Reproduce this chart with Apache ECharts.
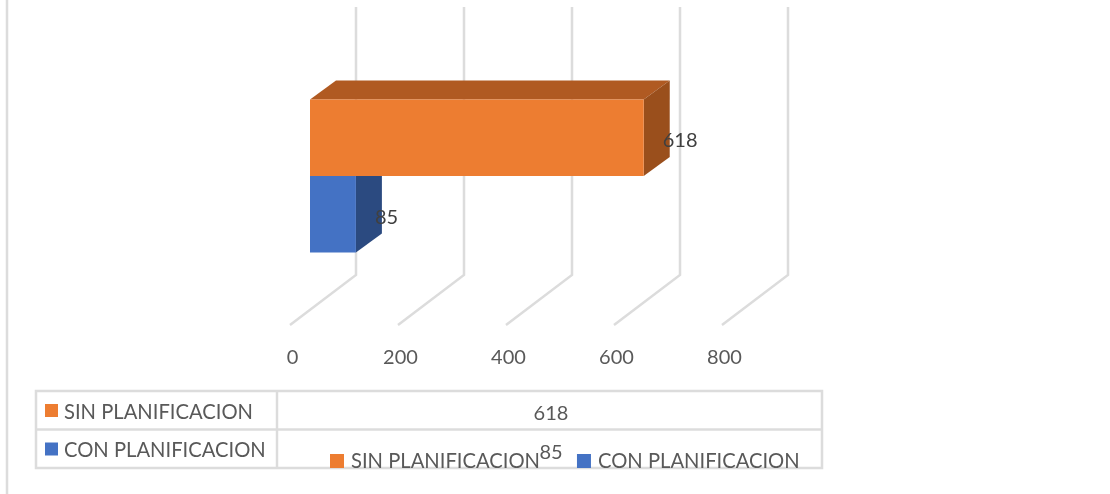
<!DOCTYPE html>
<html>
<head>
<meta charset="utf-8">
<style>html,body{margin:0;padding:0;background:#fff}#chart{width:1110px;height:494px}</style>
<script src="https://cdn.jsdelivr.net/npm/echarts@6/dist/echarts.min.js"></script>
</head>
<body>
<div id="chart"></div>
<script>
// Planning comparison, drawn as a 3D-style clustered bar with a data table below.
const category = ['Total'];
const seriesNames = ['CON PLANIFICACION', 'SIN PLANIFICACION'];
const conValues = [85];
const sinValues = [618];
const tableOrder = ['SIN PLANIFICACION', 'CON PLANIFICACION'];
const tableValues = [618, 85];
const tickValues = [0, 200, 400, 600, 800];
const colors = {
  'CON PLANIFICACION': { front: '#4472c4', side: '#2b4a80', top: '#345a9e' },
  'SIN PLANIFICACION': { front: '#ed7d31', side: '#9a4f1c', top: '#b05a22' }
};

const FONT = 'Lato';
const WALL_DX = 66, WALL_DY = -50;        // floor depth of the 3D box
const BAR_DX = 20, BAR_DY = -15;          // where bars sit inside that depth
const BAR_DEPTH_DX = 26, BAR_DEPTH_DY = -19;
const BAR_SHARE = 0.2857;                 // one bar as a share of the category band

function poly(points, fill) {
  return { type: 'polygon', shape: { points }, style: { fill } };
}

// Floor diagonal and back-wall line for one axis tick.
function renderWall(params, api) {
  const base = api.coord([api.value(0), 0]);
  const h = api.size([0, 1])[1];
  const bottom = base[1] + h / 2;
  const x = base[0];
  return {
    type: 'polyline',
    shape: { points: [[x, bottom], [x + WALL_DX, bottom + WALL_DY], [x + WALL_DX, bottom + WALL_DY - h]] },
    style: { stroke: '#dcdcdc', lineWidth: 2.5, fill: null },
    z2: 1
  };
}

// Extruded bar: top and side faces behind the front face, value label beside the end.
function makeBarRenderer(name, lowerHalf) {
  return function (params, api) {
    const start = api.coord([0, 0]);
    const end = api.coord([api.value(0), 0]);
    const barH = api.size([0, 1])[1] * BAR_SHARE;
    const x0 = start[0] + BAR_DX;
    const x1 = end[0] + BAR_DX;
    const cy = start[1] + BAR_DY;
    const y0 = lowerHalf ? cy : cy - barH;
    const y1 = y0 + barH;
    const c = colors[name];
    const d = BAR_DEPTH_DX, e = BAR_DEPTH_DY;
    return {
      type: 'group',
      children: [
        poly([[x0, y0], [x0 + d, y0 + e], [x1 + d, y0 + e], [x1, y0]], c.top),
        poly([[x1, y0], [x1 + d, y0 + e], [x1 + d, y1 + e], [x1, y1]], c.side),
        poly([[x0, y0], [x1, y0], [x1, y1], [x0, y1]], c.front),
        {
          type: 'text',
          z2: 10,
          style: {
            text: String(api.value(0)),
            x: x1 + 19,
            y: (y0 + y1) / 2 + 3,
            align: 'left',
            verticalAlign: 'middle',
            fill: '#404040',
            font: '20px ' + FONT
          }
        }
      ]
    };
  };
}

// Left edge of the chart frame, plus the data table with its row labels and values.
function tableGraphics() {
  const left = 36, right = 822, top = 391, rowH = 38.5, split = 277;
  const line = { stroke: '#dcdcdc', lineWidth: 2.5 };
  const items = [
    { type: 'line', shape: { x1: 7, y1: 0, x2: 7, y2: 494 }, style: line },
    { type: 'rect', shape: { x: left, y: top, width: right - left, height: rowH * 2 }, style: { stroke: '#dcdcdc', lineWidth: 2.5, fill: null } },
    { type: 'line', shape: { x1: left, y1: top + rowH, x2: right, y2: top + rowH }, style: line },
    { type: 'line', shape: { x1: split, y1: top, x2: split, y2: top + rowH * 2 }, style: line }
  ];
  tableOrder.forEach(function (name, i) {
    const y = top + rowH * i;
    items.push({ type: 'rect', shape: { x: 45, y: y + 13, width: 13, height: 13 }, style: { fill: colors[name].front } });
    items.push({ type: 'text', style: { text: name, x: 64, y: y + 21, verticalAlign: 'middle', fill: '#595959', font: '20.2px ' + FONT } });
    items.push({ type: 'text', style: { text: String(tableValues[i]), x: 551, y: y + 23, align: 'center', verticalAlign: 'middle', fill: '#595959', font: '20px ' + FONT } });
  });
  return items;
}

const chart = echarts.init(document.getElementById('chart'), null, { renderer: 'canvas' });
chart.setOption({
  animation: false,
  backgroundColor: '#fff',
  grid: { left: 290, top: 57, width: 432, height: 268 },
  xAxis: {
    type: 'value', min: 0, max: 800, interval: 200,
    axisLine: { show: false }, axisTick: { show: false }, splitLine: { show: false },
    axisLabel: { color: '#595959', fontFamily: FONT, fontSize: 20, margin: 23, align: 'center', padding: [0, 0, 0, 5] }
  },
  yAxis: {
    type: 'category', data: category,
    axisLine: { show: false }, axisTick: { show: false }, axisLabel: { show: false }, splitLine: { show: false }
  },
  legend: {
    left: 325, top: 446, itemWidth: 14, itemHeight: 14, itemGap: 37, icon: 'rect',
    data: ['SIN PLANIFICACION', 'CON PLANIFICACION'],
    textStyle: { color: '#595959', fontFamily: FONT, fontSize: 20.2, padding: [0, 0, 0, 2] }
  },
  graphic: tableGraphics(),
  series: [
    { type: 'custom', name: 'axis', silent: true, z: 1, encode: { x: 0 },
      renderItem: renderWall, data: tickValues.map(v => [v]) },
    { type: 'custom', name: seriesNames[0], z: 3, itemStyle: { color: colors[seriesNames[0]].front },
      encode: { x: 0 }, renderItem: makeBarRenderer(seriesNames[0], true), data: conValues.map(v => [v]) },
    { type: 'custom', name: seriesNames[1], z: 3, itemStyle: { color: colors[seriesNames[1]].front },
      encode: { x: 0 }, renderItem: makeBarRenderer(seriesNames[1], false), data: sinValues.map(v => [v]) }
  ]
});
</script>
</body>
</html>
